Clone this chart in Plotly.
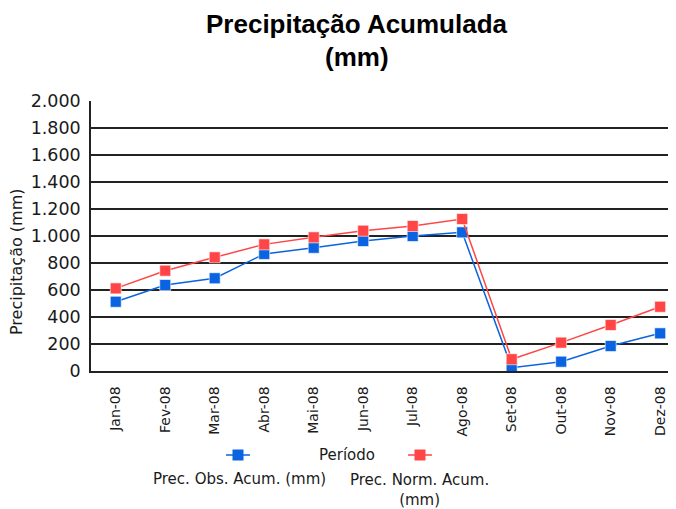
import plotly.graph_objects as go

months = ["Jan-08", "Fev-08", "Mar-08", "Abr-08", "Mai-08", "Jun-08",
          "Jul-08", "Ago-08", "Set-08", "Out-08", "Nov-08", "Dez-08"]
obs_acum = [513, 637, 687, 867, 913, 963, 1000, 1027, 25, 69, 185, 279]
norm_acum = [612, 743, 842, 938, 990, 1039, 1074, 1126, 87, 210, 341, 476]
series_names = ["Prec. Obs. Acum. (mm)", "Prec. Norm. Acum.<br>(mm)"]
title_lines = ["Precipitação Acumulada", "(mm)"]

BLUE = "#0a63e0"
RED = "#ff4545"
TXT = "#1a1a1a"

OFF = 8  # page body margin
W, H = 676 - OFF, 509 - OFF
L, R, T, B = 91 - OFF, 0, 101 - OFF, 138
PW, PH = W - L - R, H - T - B


def px(x):  # screen x -> paper
    return (x - OFF - L) / PW


def py(y):  # screen y -> paper
    return (H - B - (y - OFF)) / PH


fig = go.Figure()
for name, vals, col in [(series_names[0], obs_acum, BLUE),
                        (series_names[1], norm_acum, RED)]:
    fig.add_trace(go.Scatter(
        x=months, y=vals, mode="lines+markers", name=name,
        line=dict(color=col, width=1.5),
        marker=dict(symbol="square", size=11, color=col,
                    line=dict(color="rgba(255,255,255,0.6)", width=1)),
        showlegend=False,
    ))

shapes = []
annotations = []

# custom legend
for cx, col in [(238, BLUE), (420, RED)]:
    shapes.append(dict(type="line", xref="paper", yref="paper",
                       x0=px(cx - 12), x1=px(cx + 12), y0=py(455), y1=py(455),
                       line=dict(color=col, width=1.5)))
    shapes.append(dict(type="rect", xref="paper", yref="paper",
                       xsizemode="pixel", ysizemode="pixel",
                       xanchor=px(cx), yanchor=py(455),
                       x0=-5.5, x1=5.5, y0=-5.5, y1=5.5,
                       fillcolor=col, line=dict(width=0)))

annotations.append(dict(text="Período", xref="paper", yref="paper",
                        x=px(347), y=py(455), showarrow=False,
                        xanchor="center", yanchor="middle",
                        font=dict(family="DejaVu Sans", size=15, color=TXT)))
annotations.append(dict(text=series_names[0], xref="paper", yref="paper",
                        x=px(239), y=py(479), showarrow=False,
                        xanchor="center", yanchor="middle",
                        font=dict(family="DejaVu Sans", size=15, color=TXT)))
annotations.append(dict(text=series_names[1], xref="paper", yref="paper",
                        x=px(419), y=py(469), showarrow=False,
                        xanchor="center", yanchor="top",
                        font=dict(family="DejaVu Sans", size=15, color=TXT)))
# y-axis title
annotations.append(dict(text="Precipitação (mm)", xref="paper", yref="paper",
                        x=px(16), y=py(262), showarrow=False, textangle=-90,
                        xanchor="center", yanchor="middle",
                        font=dict(family="DejaVu Sans", size=16, color=TXT)))
# chart title (two lines)
for txt, cy in zip(title_lines, [24, 57]):
    annotations.append(dict(text="<b>" + txt + "</b>",
                            xref="paper", yref="paper",
                            x=px(357), y=py(cy), showarrow=False,
                            xanchor="center", yanchor="middle",
                            font=dict(family="Liberation Sans, Arial", size=26,
                                      color="black")))

fig.update_layout(
    width=W, height=H,
    margin=dict(l=L, r=R, t=T, b=B, autoexpand=False),
    paper_bgcolor="white", plot_bgcolor="white",
    separators=",.",
    xaxis=dict(type="category", range=[-0.5, 11.32],
               tickangle=-90, showgrid=False, showline=True,
               linecolor="#222", linewidth=1.5, ticks="", ticklabelstandoff=8,
               tickfont=dict(family="DejaVu Sans", size=14, color=TXT)),
    yaxis=dict(range=[0, 2000], dtick=200, tickformat=",d",
               showgrid=True, gridcolor="#222", gridwidth=1.5,
               showline=True, linecolor="#222", linewidth=1.5,
               zeroline=False, ticks="", ticklabelstandoff=5,
               tickfont=dict(family="DejaVu Sans", size=17.5, color=TXT)),
    shapes=shapes, annotations=annotations,
)

fig.write_html("out.html")
